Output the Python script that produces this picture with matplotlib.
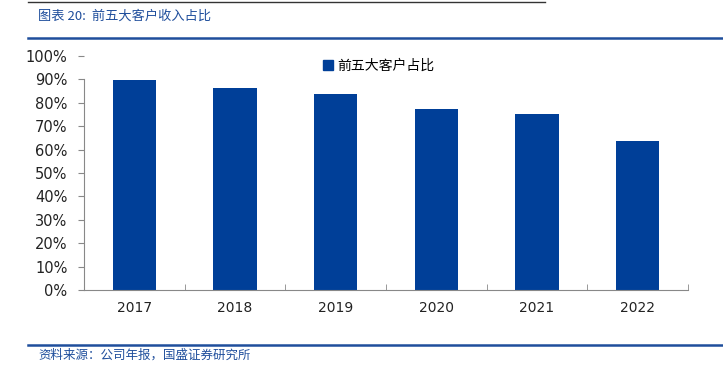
import numpy as np
import matplotlib.pyplot as plt
from matplotlib.lines import Line2D
from matplotlib.patches import Patch

plt.rcParams['font.family'] = ['Noto Sans CJK SC', 'DejaVu Sans']

# data
years = ["2017", "2018", "2019", "2020", "2021", "2022"]
share = [0.897, 0.862, 0.837, 0.773, 0.752, 0.637]
y_ticks = [0.0, 0.1, 0.2, 0.3, 0.4, 0.5, 0.6, 0.7, 0.8, 0.9, 1.0]

blue = "#003f98"
W, H = 723, 370

fig = plt.figure(figsize=(W / 100, H / 100), dpi=100)

# plot area
ax = fig.add_axes([84 / W, (H - 290) / H, 604 / W, 234 / H])
x = np.arange(len(years))
ax.bar(x, share, width=0.43, color=blue, label="前五大客户占比")
ax.set_xlim(-0.5, len(years) - 0.5)
ax.set_ylim(0, 1.0)

ax.set_yticks(y_ticks)
ax.set_yticklabels([f"{int(round(v * 100))}%" for v in y_ticks],
                   fontfamily="DejaVu Sans", fontsize=10.5, color="#222222")
ax.set_xticks(x)
ax.set_xticklabels(years, fontfamily="DejaVu Sans", fontsize=10, color="#222222")
ax.tick_params(axis="x", length=0, pad=8)
ax.tick_params(axis="y", length=4, direction="out", color="#888888", pad=8)

# boundary ticks on the x axis
ax.set_xticks(np.arange(-0.5, len(years)), minor=True)
ax.tick_params(axis="x", which="minor", length=4, direction="in", color="#888888")

for s in ["top", "right"]:
    ax.spines[s].set_visible(False)
ax.spines["left"].set_color("#888888")
ax.spines["bottom"].set_color("#888888")
ax.spines["left"].set_bounds(0, 0.9)

leg = ax.legend(handles=[Patch(color=blue, label="前五大客户占比")],
                loc="upper left", bbox_to_anchor=(0.375, 1.04), frameon=False,
                fontsize=10, handlelength=0.7, handleheight=0.7, handletextpad=0.3)

# header and footer
fig.add_artist(Line2D([28 / W, 545 / W], [1 - 2 / H, 1 - 2 / H], color="#333333", lw=1))
fig.text(38 / W, 1 - 16 / H, "图表 20:  前五大客户收入占比", color="#1f4e9c",
         fontsize=9.5, style="italic", va="center", ha="left")
fig.add_artist(Line2D([28 / W, 1], [1 - 38 / H, 1 - 38 / H], color="#1f4e9c", lw=1.8))
fig.add_artist(Line2D([28 / W, 1], [1 - 345 / H, 1 - 345 / H], color="#1f4e9c", lw=1.8))
fig.text(38 / W, 1 - 355 / H, "资料来源：公司年报，国盛证券研究所", color="#1f4e9c",
         fontsize=9, style="italic", va="center", ha="left")

fig.savefig("out.png", dpi=100)
